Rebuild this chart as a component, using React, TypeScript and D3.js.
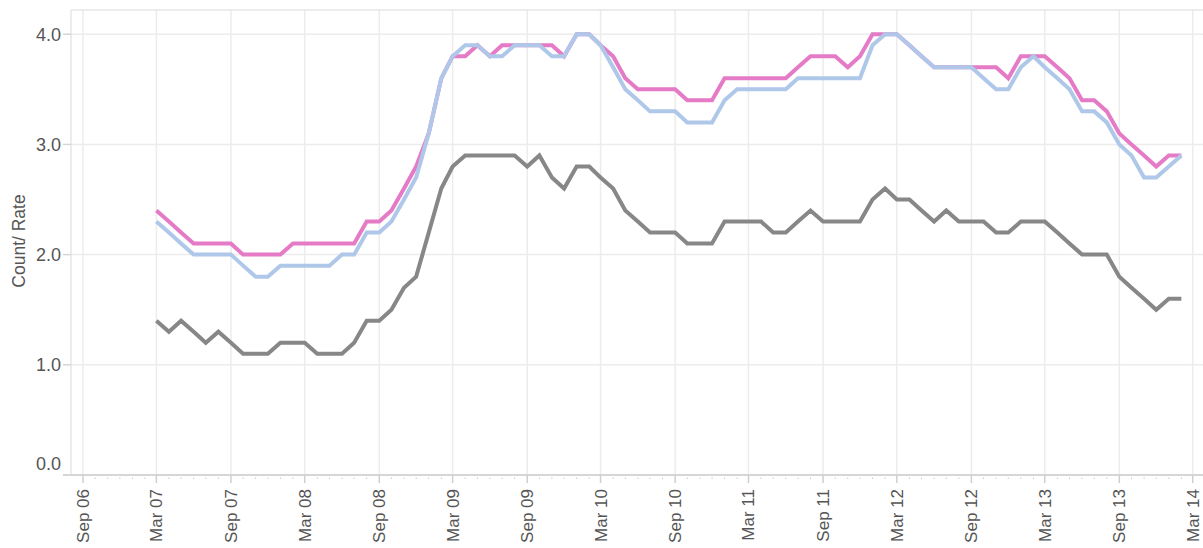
import * as d3 from 'd3'

// monthly values, Mar 2007 .. Feb 2014
const pinkSeries = [
  2.4, 2.3, 2.2, 2.1, 2.1, 2.1, 2.1, 2.0, 2.0, 2.0, 2.0, 2.1, 2.1, 2.1, 2.1, 2.1, 2.1, 2.3, 2.3, 2.4,
  2.6, 2.8, 3.1, 3.6, 3.8, 3.8, 3.9, 3.8, 3.9, 3.9, 3.9, 3.9, 3.9, 3.8, 4.0, 4.0, 3.9, 3.8, 3.6, 3.5,
  3.5, 3.5, 3.5, 3.4, 3.4, 3.4, 3.6, 3.6, 3.6, 3.6, 3.6, 3.6, 3.7, 3.8, 3.8, 3.8, 3.7, 3.8, 4.0, 4.0,
  4.0, 3.9, 3.8, 3.7, 3.7, 3.7, 3.7, 3.7, 3.7, 3.6, 3.8, 3.8, 3.8, 3.7, 3.6, 3.4, 3.4, 3.3, 3.1, 3.0,
  2.9, 2.8, 2.9, 2.9,
]

const blueSeries = [
  2.3, 2.2, 2.1, 2.0, 2.0, 2.0, 2.0, 1.9, 1.8, 1.8, 1.9, 1.9, 1.9, 1.9, 1.9, 2.0, 2.0, 2.2, 2.2, 2.3,
  2.5, 2.7, 3.1, 3.6, 3.8, 3.9, 3.9, 3.8, 3.8, 3.9, 3.9, 3.9, 3.8, 3.8, 4.0, 4.0, 3.9, 3.7, 3.5, 3.4,
  3.3, 3.3, 3.3, 3.2, 3.2, 3.2, 3.4, 3.5, 3.5, 3.5, 3.5, 3.5, 3.6, 3.6, 3.6, 3.6, 3.6, 3.6, 3.9, 4.0,
  4.0, 3.9, 3.8, 3.7, 3.7, 3.7, 3.7, 3.6, 3.5, 3.5, 3.7, 3.8, 3.7, 3.6, 3.5, 3.3, 3.3, 3.2, 3.0, 2.9,
  2.7, 2.7, 2.8, 2.9,
]

const graySeries = [
  1.4, 1.3, 1.4, 1.3, 1.2, 1.3, 1.2, 1.1, 1.1, 1.1, 1.2, 1.2, 1.2, 1.1, 1.1, 1.1, 1.2, 1.4, 1.4, 1.5,
  1.7, 1.8, 2.2, 2.6, 2.8, 2.9, 2.9, 2.9, 2.9, 2.9, 2.8, 2.9, 2.7, 2.6, 2.8, 2.8, 2.7, 2.6, 2.4, 2.3,
  2.2, 2.2, 2.2, 2.1, 2.1, 2.1, 2.3, 2.3, 2.3, 2.3, 2.2, 2.2, 2.3, 2.4, 2.3, 2.3, 2.3, 2.3, 2.5, 2.6,
  2.5, 2.5, 2.4, 2.3, 2.4, 2.3, 2.3, 2.3, 2.2, 2.2, 2.3, 2.3, 2.3, 2.2, 2.1, 2.0, 2.0, 2.0, 1.8, 1.7,
  1.6, 1.5, 1.6, 1.6,
]

const months = d3.utcMonth.range(new Date(Date.UTC(2007, 2, 1)), new Date(Date.UTC(2014, 2, 1)))
const yTicks = [0, 1, 2, 3, 4]
const yTitle = 'Count/ Rate'

const W = 1203
const H = 548
const left = 71
const top = 10
const bottom = 475
const right = W

const font = 'Helvetica, Arial, "Liberation Sans", sans-serif'

export default function App() {
  const x = d3.scaleUtc()
    .domain([new Date(Date.UTC(2006, 8, 1)), new Date(Date.UTC(2014, 2, 1))])
    .range([83, 1192.7])
  const y = d3.scaleLinear().domain([0, 4.22]).range([bottom, top])

  const [d0, d1] = [x.invert(left), x.invert(right)]
  const allMonths = d3.utcMonth.range(d0, d1)
  const isMajor = (d: Date) => d.getUTCMonth() === 2 || d.getUTCMonth() === 8
  const major = allMonths.filter(isMajor)
  const minor = allMonths.filter((d) => !isMajor(d))
  const fmt = d3.utcFormat('%b %y')

  const line = d3.line<number>()
    .x((_, i) => x(months[i]))
    .y((v) => y(v))

  const series = [
    { key: 'gray', values: graySeries, color: '#878787' },
    { key: 'pink', values: pinkSeries, color: '#e57bc6' },
    { key: 'blue', values: blueSeries, color: '#afc8ea' },
  ]

  return (
    <svg width={W} height={H} style={{ position: 'absolute', left: 0, top: 0, background: '#fff' }}>
      <g>
        {major.map((d) => (
          <line key={+d} x1={x(d)} x2={x(d)} y1={top} y2={bottom} stroke="#ececec" strokeWidth={1.5} />
        ))}
        {yTicks.map((t) => (
          <line key={t} x1={left} x2={right} y1={y(t)} y2={y(t)} stroke="#ececec" strokeWidth={1.5} />
        ))}
      </g>
      <line x1={left} x2={right} y1={top} y2={top} stroke="#d9d9d9" strokeWidth={1} />
      <line x1={left} x2={left} y1={top} y2={bottom} stroke="#d9d9d9" strokeWidth={1} />
      <line x1={63} x2={right} y1={bottom} y2={bottom} stroke="#d6d6d6" strokeWidth={2} />

      {yTicks.map((t) => (
        <g key={t}>
          <line x1={63} x2={left} y1={y(t)} y2={y(t)} stroke="#d6d6d6" strokeWidth={1.5} />
          <text
            x={61}
            y={Math.min(y(t), 464)}
            dy="0.35em"
            textAnchor="end"
            fontFamily={font}
            fontSize={18}
            fill="#555"
          >
            {t.toFixed(1)}
          </text>
        </g>
      ))}

      {minor.map((d) => (
        <line key={+d} x1={x(d)} x2={x(d)} y1={477.5} y2={479} stroke="#c8c8c8" strokeWidth={1} />
      ))}
      {major.map((d) => (
        <g key={+d}>
          <line x1={x(d)} x2={x(d)} y1={bottom} y2={483} stroke="#cfcfcf" strokeWidth={1.5} />
          <text
            transform={`translate(${x(d)},489) rotate(-90)`}
            dy="0.35em"
            textAnchor="end"
            fontFamily={font}
            fontSize={17}
            fill="#555"
          >
            {fmt(d)}
          </text>
        </g>
      ))}

      <text
        transform={`translate(19,241) rotate(-90)`}
        dy="0.35em"
        textAnchor="middle"
        fontFamily={font}
        fontSize={17.5}
        fill="#555"
      >
        {yTitle}
      </text>

      {series.map((s) => (
        <path
          key={s.key}
          d={line(s.values) ?? ''}
          fill="none"
          stroke={s.color}
          strokeWidth={4}
          strokeLinejoin="miter"
        />
      ))}
    </svg>
  )
}
